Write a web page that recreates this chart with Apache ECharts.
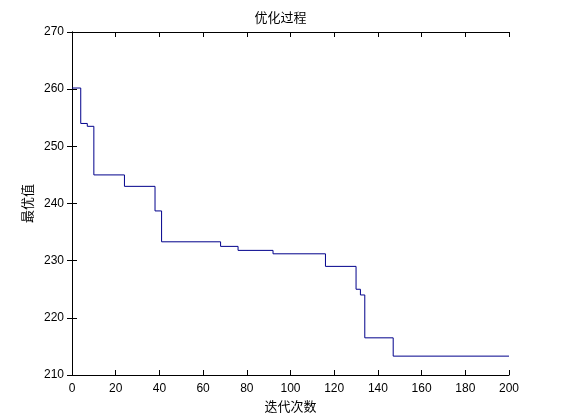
<!DOCTYPE html><html><head><meta charset="utf-8"><script src="https://cdn.jsdelivr.net/npm/echarts@6/dist/echarts.min.js"></script></head><body style="margin:0;background:#fff"><div id="c" style="width:561px;height:420px"></div><script>
const iters=[0,4,7,10,24,38,41,68,76,92,116,130,132,134,147,200];
const values=[260.2,254,253.5,245,243,238.7,233.3,232.5,231.8,231.2,229,225,224,216.5,213.3,213.3];
const xTicks=[0,20,40,60,80,100,120,140,160,180,200];
const yTicks=[210,220,230,240,250,260,270];
const font='"Noto Sans CJK SC", sans-serif';
const ax=(show)=>({axisLine:{show:true,lineStyle:{color:'#000'}},axisTick:{show:true,inside:true,length:5,lineStyle:{color:'#000'}},axisLabel:{show:show,color:'#000',fontSize:12,fontFamily:'Arial'},splitLine:{show:false}});
const c=echarts.init(document.getElementById('c'));
c.setOption({animation:false,
title:{text:'优化过程',left:'center',top:6,textStyle:{fontSize:13,fontWeight:'normal',fontFamily:font,color:'#000'}},
grid:{left:72,right:52,top:32,bottom:45},
xAxis:[Object.assign({type:'value',min:0,max:200,interval:20,name:'迭代次数',nameLocation:'middle',nameGap:20,nameTextStyle:{fontFamily:font,fontSize:13,color:'#000'}},ax(true)),
Object.assign({type:'value',min:0,max:200,interval:20,position:'top'},ax(false))],
yAxis:[Object.assign({type:'value',min:210,max:270,interval:10,name:'最优值',nameLocation:'middle',nameGap:34,nameTextStyle:{fontFamily:font,fontSize:13,color:'#000'}},ax(true)),
Object.assign({type:'value',min:210,max:270,interval:10,position:'right'},ax(false))],
series:[{type:'line',step:'end',symbol:'none',data:iters.map((x,i)=>[x,values[i]]),lineStyle:{color:'#00008b',width:1}}]});
</script></body></html>
